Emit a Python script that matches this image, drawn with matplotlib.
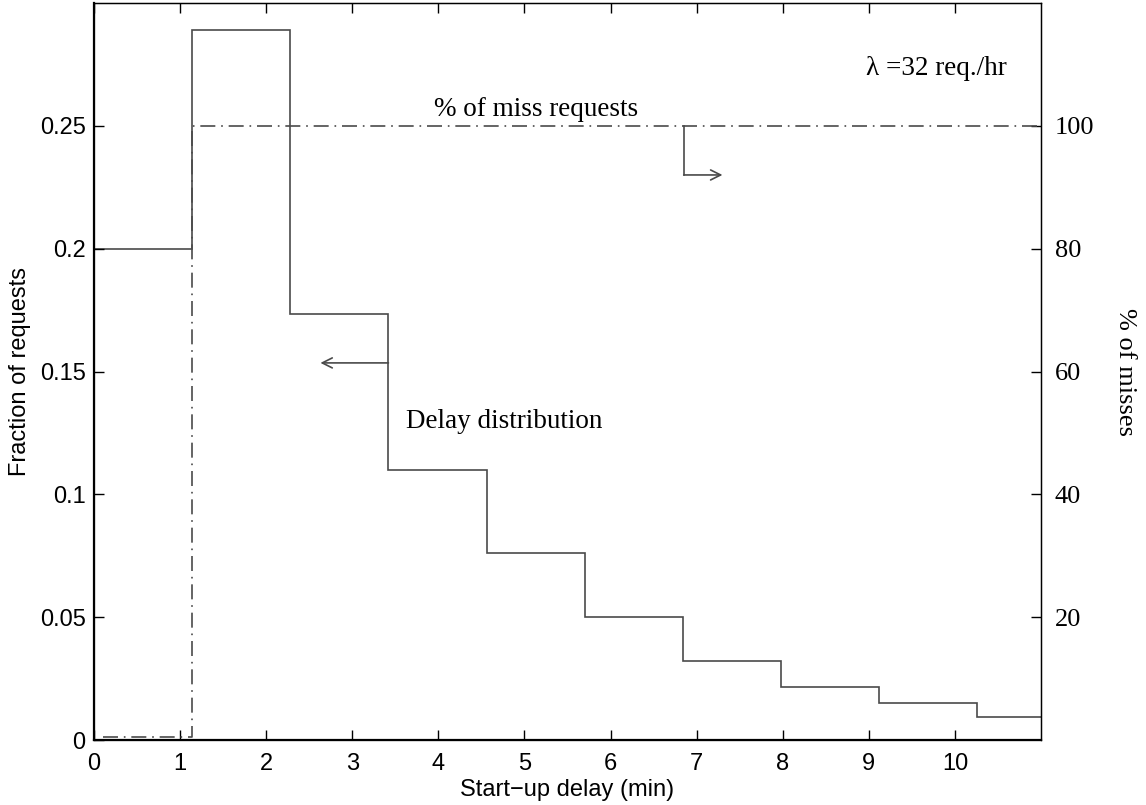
import numpy as np
import matplotlib
matplotlib.use("Agg")
import matplotlib.pyplot as plt

# Delay histogram: bin edges (min) and fraction of requests per bin
bin_edges = [0.0, 1.14, 2.28, 3.42, 4.56, 5.70, 6.84, 7.98, 9.12, 10.26, 11.0]
fraction = [0.200, 0.289, 0.1735, 0.110, 0.076, 0.050, 0.032, 0.0216, 0.015, 0.0094]

# Percentage of miss requests versus start-up delay
miss_x = [0.1, 1.14, 1.14, 11.0]
miss_pct = [0.5, 0.5, 100.0, 100.0]

x_ticks = [0, 1, 2, 3, 4, 5, 6, 7, 8, 9, 10]
y_ticks = [0, 0.05, 0.1, 0.15, 0.2, 0.25]
y_tick_labels = ["0", "0.05", "0.1", "0.15", "0.2", "0.25"]
y2_ticks = [20, 40, 60, 80, 100]

sans = ["Liberation Sans", "DejaVu Sans"]
serif = ["Liberation Serif", "DejaVu Serif"]
line_col = "#4a4a4a"

fig = plt.figure(figsize=(11.46, 8.05), dpi=100)
ax = fig.add_axes([0.082, 0.0807, 0.8264, 0.9156])
ax2 = ax.twinx()

ax.stairs(fraction, bin_edges, color=line_col, lw=1.2, baseline=None)
ax2.plot(miss_x, miss_pct, color=line_col, lw=1.2, ls=(0, (9, 3.5, 1, 3.5)))

ax.set_xlim(0, 11.0)
ax.set_ylim(0, 0.30)
ax2.set_ylim(0, 120)

ax.set_xticks(x_ticks)
ax.set_xticklabels([str(t) for t in x_ticks], fontfamily=sans, fontsize=17)
ax.set_yticks(y_ticks)
ax.set_yticklabels(y_tick_labels, fontfamily=sans, fontsize=17)
ax2.set_yticks(y2_ticks)
ax2.set_yticklabels([str(t) for t in y2_ticks], fontfamily=serif, fontsize=19)

ax.tick_params(axis="x", direction="in", length=7, width=1, top=True, pad=9)
ax.tick_params(axis="y", direction="in", length=7, width=1, pad=6)
ax2.tick_params(axis="y", direction="in", length=7, width=1, pad=10)

for sp in ax.spines.values():
    sp.set_linewidth(1.0)
ax.spines["left"].set_linewidth(1.6)
ax.spines["bottom"].set_linewidth(1.6)

ax.set_xlabel("Start\u2212up delay (min)", fontfamily=sans, fontsize=17, labelpad=3)
ax.set_ylabel("Fraction of requests", fontfamily=sans, fontsize=17, labelpad=6)
ax2.set_ylabel("% of misses", fontfamily=serif, fontsize=19, rotation=270, labelpad=30)

# Annotations
ax.text(5.13, 0.2565, "% of miss requests", fontfamily=serif, fontsize=19.5,
        ha="center", va="center")
ax.text(3.62, 0.1295, "Delay distribution", fontfamily=serif, fontsize=19.5,
        ha="left", va="center")
ax.text(8.97, 0.2735, "\u03bb =32 req./hr", fontfamily=serif, fontsize=19.5,
        ha="left", va="center")

# Pointer from the delay curve to the left axis
ax.annotate("", xy=(2.63, 0.1535), xytext=(3.42, 0.1535),
            arrowprops=dict(arrowstyle="->", color=line_col, lw=1.2,
                            mutation_scale=18, shrinkA=0, shrinkB=0))
# Pointer from the miss curve to the right axis
ax2.plot([6.85, 6.85], [100, 92], color=line_col, lw=1.2)
ax2.annotate("", xy=(7.3, 92), xytext=(6.85, 92),
             arrowprops=dict(arrowstyle="->", color=line_col, lw=1.2,
                             mutation_scale=18, shrinkA=0, shrinkB=0))

fig.savefig("out.png", dpi=100)
